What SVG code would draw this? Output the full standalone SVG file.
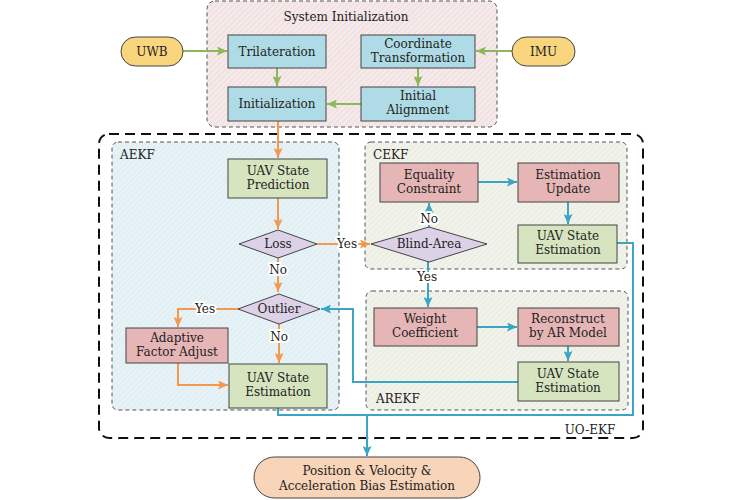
<svg xmlns="http://www.w3.org/2000/svg" width="741" height="500" viewBox="0 0 741 500" font-family="'DejaVu Serif', 'Liberation Serif', serif">
<defs>
<pattern id="hPink" width="4" height="4" patternUnits="userSpaceOnUse" patternTransform="rotate(45)"><rect width="4" height="4" fill="#f6e9e9"/><line x1="0" y1="0" x2="0" y2="4" stroke="#e6cfcf" stroke-width="1"/></pattern>
<pattern id="hBlue" width="4" height="4" patternUnits="userSpaceOnUse" patternTransform="rotate(45)"><rect width="4" height="4" fill="#e7f2f6"/><line x1="0" y1="0" x2="0" y2="4" stroke="#d2e6ee" stroke-width="1"/></pattern>
<pattern id="hGreen" width="4" height="4" patternUnits="userSpaceOnUse" patternTransform="rotate(45)"><rect width="4" height="4" fill="#f1f2ea"/><line x1="0" y1="0" x2="0" y2="4" stroke="#e2e5d6" stroke-width="1"/></pattern>
<marker id="aG" markerUnits="userSpaceOnUse" markerWidth="11" markerHeight="9" refX="10" refY="4.5" orient="auto"><path d="M0,0 L10,4.5 L0,9 L2,4.5 z" fill="#8db75a"/></marker>
<marker id="aO" markerUnits="userSpaceOnUse" markerWidth="11" markerHeight="9" refX="10" refY="4.5" orient="auto"><path d="M0,0 L10,4.5 L0,9 L2,4.5 z" fill="#f3984e"/></marker>
<marker id="aB" markerUnits="userSpaceOnUse" markerWidth="11" markerHeight="9" refX="10" refY="4.5" orient="auto"><path d="M0,0 L10,4.5 L0,9 L2,4.5 z" fill="#3aa5c4"/></marker>
</defs>
<style>
text{font-family:"DejaVu Serif","Liberation Serif",serif;font-size:12px;fill:#222;text-anchor:middle}
.lbl{text-anchor:start}
.edge{paint-order:stroke;stroke:#fff;stroke-width:4px;stroke-linejoin:round}
.grp{stroke:#555;stroke-width:1;stroke-dasharray:4,3}
.outer{fill:none;stroke:#111;stroke-width:2;stroke-dasharray:10,6}
.blue{fill:#afdbe6;stroke:#444;stroke-width:1}
.green{fill:#d6e4c0;stroke:#444;stroke-width:1}
.red{fill:#e6b6b6;stroke:#444;stroke-width:1}
.dia{fill:#ddd1e7;stroke:#444;stroke-width:1}
.yel{fill:#f9d67e;stroke:#444;stroke-width:1}
.peach{fill:#f8d4b8;stroke:#444;stroke-width:1}
.cg{fill:none;stroke:#8db75a;stroke-width:2}
.co{fill:none;stroke:#f3984e;stroke-width:2}
.cb{fill:none;stroke:#3aa5c4;stroke-width:2}
</style>

<!-- group containers -->
<g id="sysinit">
<rect class="grp" x="207" y="1" width="290" height="126" rx="8" fill="url(#hPink)"/>
<text x="346" y="21">System Initialization</text>
</g>
<g id="uoekf">
<rect class="outer" x="99" y="134" width="544" height="304" rx="10"/>
<text x="590" y="434">UO-EKF</text>
</g>
<g id="aekf">
<rect class="grp" x="112" y="142" width="227" height="268" rx="6" fill="url(#hBlue)"/>
<text class="lbl" x="120" y="159">AEKF</text>
</g>
<g id="cekf">
<rect class="grp" x="365" y="142" width="262" height="127" rx="6" fill="url(#hGreen)"/>
<text class="lbl" x="373" y="159">CEKF</text>
</g>
<g id="arekf">
<rect class="grp" x="366" y="291" width="262" height="119" rx="6" fill="url(#hGreen)"/>
<text class="lbl" x="376" y="403">AREKF</text>
</g>

<!-- connectors -->
<g id="connectors">
<path class="cg" d="M183,51 H227" marker-end="url(#aG)"/>
<path class="cg" d="M512,51 H476" marker-end="url(#aG)"/>
<path class="cg" d="M277,68 V86" marker-end="url(#aG)"/>
<path class="cg" d="M418,68 V86" marker-end="url(#aG)"/>
<path class="cg" d="M361,104 H327" marker-end="url(#aG)"/>

<path class="co" d="M278,121 V158" marker-end="url(#aO)"/>
<path class="co" d="M278,198 V229" marker-end="url(#aO)"/>
<path class="co" d="M317,244 H370" marker-end="url(#aO)"/>
<path class="co" d="M278,258 V292" marker-end="url(#aO)"/>
<path class="co" d="M238,309 H178 V327" marker-end="url(#aO)"/>
<path class="co" d="M279,324 V363" marker-end="url(#aO)"/>
<path class="co" d="M178,363 V385 H228" marker-end="url(#aO)"/>

<path class="cb" d="M429,228 V203" marker-end="url(#aB)"/>
<path class="cb" d="M478,182 H517" marker-end="url(#aB)"/>
<path class="cb" d="M568,202 V224" marker-end="url(#aB)"/>
<path class="cb" d="M428,262 V307" marker-end="url(#aB)"/>
<path class="cb" d="M477,327 H517" marker-end="url(#aB)"/>
<path class="cb" d="M568,346 V361" marker-end="url(#aB)"/>
<path class="cb" d="M518,382 H353 V309 H321" marker-end="url(#aB)"/>
<path class="cb" d="M617,243 H633 V415 H278 V408"/>
<path class="cb" d="M367,415 V456" marker-end="url(#aB)"/>

<text class="edge" x="347" y="248">Yes</text>
<text class="edge" x="278" y="274">No</text>
<text class="edge" x="205" y="313">Yes</text>
<text class="edge" x="279" y="341">No</text>
<text class="edge" x="429" y="223">No</text>
<text class="edge" x="427" y="281">Yes</text>
</g>

<!-- nodes -->
<g id="uwb"><rect class="yel" x="121" y="37" width="62" height="29" rx="14.5"/><text x="152" y="56">UWB</text></g>
<g id="imu"><rect class="yel" x="512" y="37" width="63" height="29" rx="14.5"/><text x="543.5" y="56">IMU</text></g>
<g id="trilateration"><rect class="blue" x="228" y="35" width="98" height="33"/><text x="277" y="56">Trilateration</text></g>
<g id="coordtrans"><rect class="blue" x="361" y="35" width="114" height="33"/><text x="418" y="48">Coordinate</text><text x="418" y="62">Transformation</text></g>
<g id="initialization"><rect class="blue" x="228" y="87" width="98" height="34"/><text x="277" y="108">Initialization</text></g>
<g id="initalign"><rect class="blue" x="361" y="87" width="114" height="34"/><text x="418" y="100">Initial</text><text x="418" y="114">Alignment</text></g>

<g id="prediction"><rect class="green" x="228" y="159" width="99" height="39"/><text x="278" y="175">UAV State</text><text x="278" y="189">Prediction</text></g>
<g id="loss"><polygon class="dia" points="239,244 278,230 317,244 278,258"/><text x="278" y="248">Loss</text></g>
<g id="outlier"><polygon class="dia" points="238,309 279,294 320,309 279,324"/><text x="279" y="313">Outlier</text></g>
<g id="adaptive"><rect class="red" x="126" y="328" width="102" height="35"/><text x="177" y="342">Adaptive</text><text x="177" y="356">Factor Adjust</text></g>
<g id="aekf-est"><rect class="green" x="229" y="364" width="98" height="44"/><text x="278" y="382">UAV State</text><text x="278" y="396">Estimation</text></g>

<g id="equality"><rect class="red" x="380" y="163" width="98" height="39"/><text x="429" y="179">Equality</text><text x="429" y="193">Constraint</text></g>
<g id="estupdate"><rect class="red" x="518" y="163" width="101" height="39"/><text x="568" y="179">Estimation</text><text x="568" y="193">Update</text></g>
<g id="blindarea"><polygon class="dia" points="371,244 429,227 487,244 429,262"/><text x="429" y="248">Blind-Area</text></g>
<g id="cekf-est"><rect class="green" x="518" y="225" width="99" height="38"/><text x="568" y="240">UAV State</text><text x="568" y="254">Estimation</text></g>

<g id="weight"><rect class="red" x="374" y="308" width="103" height="38"/><text x="425" y="323">Weight</text><text x="425" y="337">Coefficient</text></g>
<g id="reconstruct"><rect class="red" x="518" y="308" width="101" height="38"/><text x="568" y="323">Reconstruct</text><text x="568" y="337">by AR Model</text></g>
<g id="arekf-est"><rect class="green" x="518" y="362" width="101" height="39"/><text x="568" y="378">UAV State</text><text x="568" y="392">Estimation</text></g>

<g id="output"><rect class="peach" x="254" y="457" width="226" height="41" rx="20.5"/><text x="367" y="475">Position &amp; Velocity &amp;</text><text x="367" y="490">Acceleration Bias Estimation</text></g>
</svg>
